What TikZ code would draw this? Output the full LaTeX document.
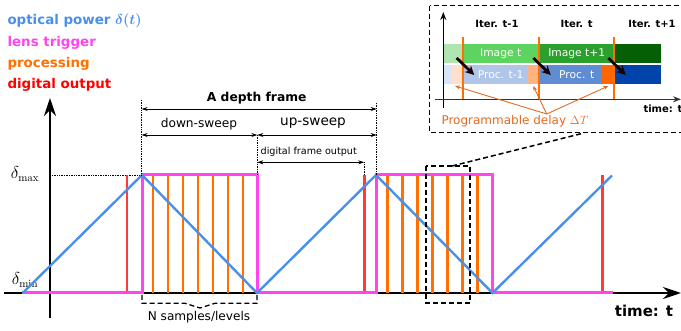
\documentclass[tikz,border=0pt]{standalone}
\usepackage{amsmath}
\usepackage[no-math]{fontspec}
\setmainfont{DejaVu Sans}
\usetikzlibrary{arrows.meta}
\definecolor{powerblue}{HTML}{4A90E8}
\definecolor{trigmagenta}{HTML}{FF45EE}
\definecolor{procorange}{HTML}{FF7000}
\definecolor{outred}{HTML}{FF3A3A}
\definecolor{delayorange}{HTML}{E06A20}
% inset colours
\definecolor{imgA}{HTML}{B0E4B0}
\definecolor{imgB}{HTML}{5FD35F}
\definecolor{imgC}{HTML}{2CA02C}
\definecolor{imgD}{HTML}{055F05}
\definecolor{prcA}{HTML}{D7E5F8}
\definecolor{prcB}{HTML}{FFE0CC}
\definecolor{prcC}{HTML}{AFC6E9}
\definecolor{prcD}{HTML}{FFB380}
\definecolor{prcE}{HTML}{5F8DD3}
\definecolor{prcF}{HTML}{FF6600}
\definecolor{prcG}{HTML}{0044AA}

\tikzset{
  axis/.style={line width=2.6pt, -{Stealth[length=18pt, width=12pt]}},
  power/.style={line width=2.4pt, powerblue},
  trig/.style={line width=3pt, trigmagenta},
  proc/.style={line width=2.4pt, procorange},
  digout/.style={line width=2.4pt, outred},
  dimline/.style={line width=0.7pt, {Stealth[length=6pt,width=4pt]}-{Stealth[length=6pt,width=4pt]}},
  guide/.style={line width=0.7pt, densely dotted},
  zoomline/.style={line width=1.5pt, dash pattern=on 5pt off 3pt},
  legend/.style={anchor=west, font=\bfseries\fontsize{13.4}{16}\selectfont},
  smalliter/.style={font=\bfseries\fontsize{10}{12}\selectfont},
  rowtext/.style={text=white, font=\fontsize{10.7}{12}\selectfont}
}

\begin{document}
\begin{tikzpicture}[x=1pt, y=-1pt]
    % Background
    \useasboundingbox (0,0) rectangle (681,331);

    % Legend
    \node[legend, text=powerblue] (lgpower) at (4,20.7) {optical power $\boldsymbol{\delta(t)}$};
    \node[legend, text=trigmagenta] (lgtrig) at (4,42.7) {lens trigger};
    \node[legend, text=procorange] (lgproc) at (4,64) {processing};
    \node[legend, text=red] (lgout) at (4,85) {digital output};

    % Axes
    \draw[axis] (4,293) -- (681,293);
    \draw[axis] (50,318) -- (50,98);
    \node[font=\bfseries\fontsize{15}{18}\selectfont] (tlabel) at (644,311) {time: t};

    \node[font=\fontsize{16}{18}\selectfont] (dmax) at (25,174) {$\delta_{\max}$};
    \node[font=\fontsize{16}{18}\selectfont] (dmin) at (25,280) {$\delta_{\min}$};
    \draw[guide] (52,175) -- (142,175);

    % Processing samples
    \foreach \k in {0,...,6} {
      \draw[proc] (152.7+15*\k,293) -- (152.7+15*\k,176);
      \draw[proc] (387.3+15*\k,293) -- (387.3+15*\k,176);
    }

    % Digital output
    \foreach \x in {126.7, 364.3, 602.3}
      \draw[digout] (\x,293) -- (\x,175);

    % Lens trigger
    \draw[trig] (22,293) -- (142,293) -- (142,175) -- (257.3,175) -- (257.3,293) -- (376.3,293)
      -- (376.3,175) -- (492.5,175) -- (492.5,293) -- (612.5,293);

    % Optical power
    \draw[power] (22.7,293) -- (142,175) -- (257,293) -- (376,175) -- (492.5,293) -- (612,175.5);

    % Samples brace
    \draw[zoomline, line width=1.3pt] (142,295) -- (142,303.3) -- (185,303.3) -- (200,308)
      -- (215,303.3) -- (257,303.3) -- (257,295);
    \node[font=\fontsize{12.1}{14}\selectfont] (nsamp) at (199,317) {N samples/levels};

    % Frame dimensions
    \coordinate (fa) at (141.7,109);
    \coordinate (fb) at (376.7,109);
    \coordinate (sa) at (141.7,135);
    \coordinate (sm) at (257.3,135);
    \coordinate (sb) at (376.7,135);
    \coordinate (oa) at (257.3,162.3);
    \coordinate (ob) at (364.3,162.3);
    \draw[guide] (141.7,100) -- (141.7,175);
    \draw[guide] (376.7,103) -- (376.7,175);
    \draw[guide] (sm) -- (257.3,175);
    \draw[guide] (ob) -- (364.3,175);
    \draw[dimline] (fa) -- (fb);
    \draw[dimline] (sa) -- (sm);
    \draw[dimline] (sm) -- (sb);
    \draw[dimline] (oa) -- (ob);
    \node[font=\bfseries\fontsize{12.3}{14}\selectfont] (depth) at (256.7,98.5) {A depth frame};
    \node[font=\fontsize{12.2}{14}\selectfont] (down) at (199,124) {down-sweep};
    \node[font=\fontsize{13.6}{16}\selectfont] (up) at (313,123.5) {up-sweep};
    \node[anchor=west, inner sep=0pt, font=\fontsize{9.6}{11}\selectfont] (dfo) at (260.5,152) {digital frame output};

    % Zoom window
    \draw[zoomline] (426,166) rectangle (470,303);
    \draw[zoomline] (452,166) -- (584,133);
    \draw[zoomline] (429.5,5.7) rectangle (695,132.7);

    % Inset rows
    \fill[imgA] (443.3,44) rectangle (462.7,62.7);
    \fill[imgB] (462.7,44) rectangle (539,62.7);
    \fill[imgC] (539,44) rectangle (614.3,62.7);
    \fill[imgD] (614.3,44) rectangle (660.7,62.7);
    \fill[prcA] (443.3,65) rectangle (451,84.3);
    \fill[prcB] (451,65) rectangle (462.7,84.3);
    \fill[prcC] (462.7,65) rectangle (527.3,84.3);
    \fill[prcD] (527.3,65) rectangle (539,84.3);
    \fill[prcE] (539,65) rectangle (601.7,84.3);
    \fill[prcF] (601.7,65) rectangle (614.3,84.3);
    \fill[prcG] (614.3,65) rectangle (660.7,84.3);
    \node[rowtext] (imgt) at (500.7,53.3) {Image t};
    \node[rowtext] (imgt1) at (576.7,53.3) {Image t+1};
    \node[rowtext] (prct1) at (500.7,75) {Proc. t-1};
    \node[rowtext] (prct) at (576.7,75) {Proc. t};

    % Inset axes
    \draw[line width=1.3pt, -{Stealth[length=8pt,width=6pt]}] (443.3,108) -- (443.3,12);
    \draw[line width=1.3pt, black!80, -{Stealth[length=8pt,width=6pt]}] (435,99.3) -- (681,99.3);
    \node[smalliter] (it0) at (497,24.3) {Iter. t-1};
    \node[smalliter] (it1) at (576.7,24.3) {Iter. t};
    \node[smalliter] (it2) at (652,24.3) {Iter. t+1};
    \node[smalliter, anchor=west] (itime) at (640,109) {time: t};

    % Iteration boundaries
    \foreach \x in {462.7, 539, 614.3}
      \draw[line width=2.2pt, procorange] (\x,37) -- (\x,99.3);

    % Hand-over arrows
    \foreach \x in {456.7, 533.3, 608.3}
      \draw[line width=2.8pt, black!90!red, -{Stealth[length=9pt,width=9pt]}] (\x,58) -- +(17.5,17);

    % Delay
    \node[text=delayorange, font=\fontsize{12}{15}\selectfont, anchor=west] (delay) at (438,121.5) {Programmable delay $\Delta T$};
    \coordinate (dj) at (546.7,114);
    \foreach \x in {455, 533.3, 608.3}
      \draw[line width=0.9pt, delayorange, -{Stealth[length=5pt,width=4pt]}] (dj) -- (\x,86);
\end{tikzpicture}
\end{document}
